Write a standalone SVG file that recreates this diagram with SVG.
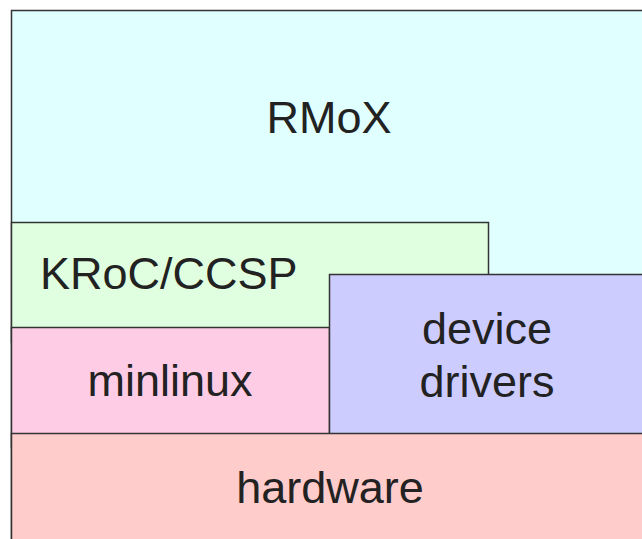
<svg xmlns="http://www.w3.org/2000/svg" width="642" height="539" viewBox="0 0 642 539">
<style>
.box{stroke:#333;stroke-width:1.5}
.t{font-family:"Liberation Sans",Arial,sans-serif;font-size:45px;fill:#222;text-anchor:middle}
</style>
<rect width="642" height="539" fill="#fff"/>
<g id="rmox"><rect class="box" x="11.5" y="10.5" width="660" height="600" fill="#e0ffff"/><text class="t" x="329" y="133">RMoX</text></g>
<g id="kroc"><rect class="box" x="11.5" y="222.5" width="477" height="120" fill="#e0ffe0"/><text class="t" x="40" y="289" style="text-anchor:start">KRoC/CCSP</text></g>
<g id="minlinux"><rect class="box" x="11.5" y="327.5" width="318" height="120" fill="#ffcce6"/><text class="t" x="170" y="396">minlinux</text></g>
<g id="drivers"><rect class="box" x="329.5" y="274.5" width="330" height="170" fill="#ccccff"/><text class="t" x="487" y="344">device</text><text class="t" x="487" y="397">drivers</text></g>
<g id="hardware"><rect class="box" x="11.5" y="433.5" width="660" height="150" fill="#ffcccc"/><text class="t" x="330" y="503">hardware</text></g>
<g id="connectors"></g>
</svg>
